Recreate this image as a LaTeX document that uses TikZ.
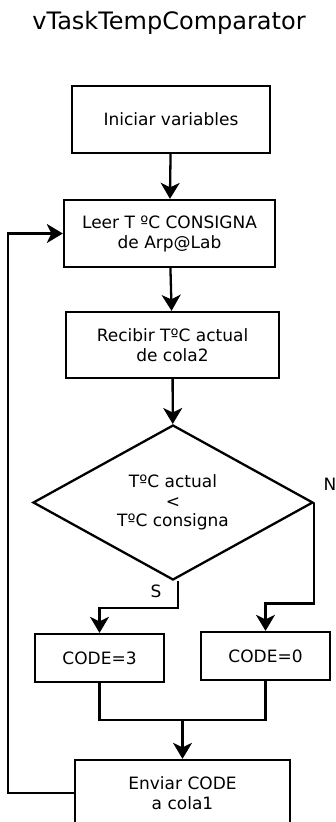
\documentclass[tikz,border=0pt]{standalone}
\usepackage{fontspec}
\setmainfont{DejaVu Sans}
\usetikzlibrary{arrows.meta,shapes.geometric,calc}

\tikzset{
  proc/.style={draw, line width=2.3pt, inner sep=0pt, align=center,
    font=\fontsize{17}{20}\selectfont},
  decision/.style={draw, diamond, line width=2.3pt, inner sep=0pt, align=center,
    aspect=1.8, minimum width=280pt, minimum height=155pt,
    font=\fontsize{17}{19.5}\selectfont},
  flow/.style={line width=2.3pt, -{Stealth[length=16pt,width=19pt,inset=4.5pt]}},
  wire/.style={line width=2.3pt},
  branchlabel/.style={inner sep=0pt, font=\fontsize{17}{20}\selectfont}
}

\begin{document}
\begin{tikzpicture}[x=1pt,y=-1pt]
  \clip (0,0) rectangle (336,822);
  \fill[white] (0,0) rectangle (336,822);

  % title
  \node[inner sep=0pt, font=\fontsize{24}{28}\selectfont] (title) at (169,23) {vTaskTempComparator};

  % process steps
  \node[proc, minimum width=198pt, minimum height=67pt] (b1) at (171,119.5) {Iniciar variables};
  \node[proc, minimum width=211pt, minimum height=67pt] (b2) at (169.5,233.5) {Leer T ºC CONSIGNA\\de Arp@Lab};
  \node[proc, minimum width=213pt, minimum height=66pt] (b3) at (172.5,345) {Recibir TºC actual\\de cola2};
  \node[decision] (dia) at (173,502.5) {TºC actual\\<\\TºC consigna};
  \node[proc, minimum width=129pt, minimum height=48pt] (b4) at (99.5,658) {CODE=3};
  \node[proc, minimum width=129pt, minimum height=48pt] (b5) at (265.5,656) {CODE=0};
  \node[proc, minimum width=215pt, minimum height=66pt] (b6) at (182.5,793) {Enviar CODE\\a cola1};

  % branch labels
  \node[branchlabel] (lblN) at (330,484) {N};
  \node[branchlabel] (lblS) at (156,591) {S};

  % helper points
  \coordinate (merge) at (182.5,720);
  \coordinate (loopx) at (8,0);

  % main sequence
  \draw[flow] (b1) -- (b2);
  \draw[flow] (b2) -- (b3);
  \draw[flow] (b3) -- (dia);

  % decision branches
  \draw[flow] ([xshift=5pt]dia.south) -- ++(0,27) -| (b4.north);
  \draw[flow] (dia.east) -- ++(0,101) -| (b5.north);

  % join
  \draw[wire] (b4.south) |- (merge) -| (b5.south);
  \draw[flow] (merge) -- (b6.north);

  % loop back
  \draw[flow] (b6.west) -- (b6.west -| loopx) |- (b2.west);
\end{tikzpicture}
\end{document}
